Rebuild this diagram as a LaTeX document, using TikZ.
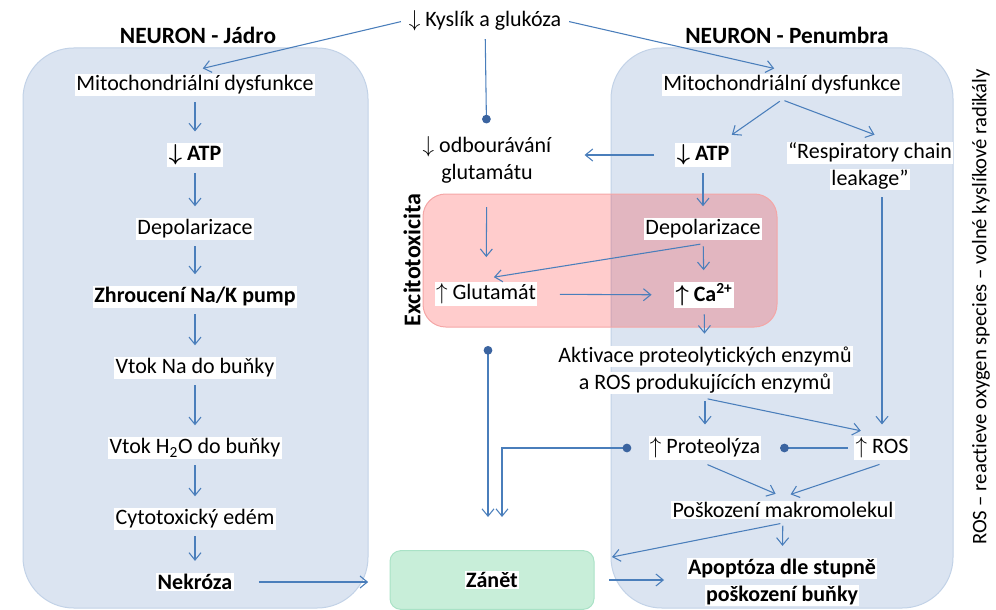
\documentclass[tikz,border=0pt]{standalone}
\usepackage{fontspec}
\setmainfont{Carlito}[Ligatures=NoCommon]
\usetikzlibrary{arrows.meta}

\definecolor{linkblue}{HTML}{4A7EBB}
\definecolor{dotblue}{HTML}{3B64A0}
\definecolor{cellfill}{HTML}{DBE4F1}
\definecolor{celledge}{HTML}{C2D2E7}
\definecolor{zanetfill}{HTML}{C8EED9}
\definecolor{zanetedge}{HTML}{A9E2C6}
\definecolor{excitoedge}{HTML}{F4A6A6}

\newcommand{\bodyfont}{\fontsize{16.5}{20}\selectfont}
\newcommand{\wbox}[1]{{\setlength{\fboxsep}{1pt}\colorbox{white}{#1}}}

\tikzset{
  txt/.style={fill=white, inner sep=1pt, outer sep=3pt, font=\bodyfont},
  boldtxt/.style={txt, font=\bodyfont\bfseries},
  multi/.style={align=center, inner sep=0pt, outer sep=3pt, font=\bodyfont},
  boldmulti/.style={multi, font=\bodyfont\bfseries},
  link/.style={draw=linkblue, line width=0.8pt, arrows={-Straight Barb[length=5.5pt,width=9pt]}, shorten <=2pt, shorten >=6pt},
  dotlink/.style={link, arrows={-Circle[length=6.5pt,color=dotblue]}},
  dotstart/.style={link, arrows={Circle[length=6.5pt,color=dotblue]-Straight Barb[length=5.5pt,width=9pt]}},
  cell/.style={fill=cellfill, draw=celledge, line width=0.75pt, rounded corners=38pt},
}

\begin{document}
\begin{tikzpicture}[x=0.75pt, y=-0.75pt]
    \useasboundingbox (0,0) rectangle (996,610);
    \clip (0,0) rectangle (996,610);

    % Draw the two neuron regions
    \draw[cell] (23,48) rectangle (368,608);
    \draw[cell] (611,48) rectangle (953,608);

    % Draw the excitotoxicity region
    \draw[fill=red, fill opacity=0.2, draw=excitoedge, line width=0.75pt, rounded corners=17pt] (423,194) rectangle (777,327);
    \node[rotate=90, font=\fontsize{18}{20}\selectfont\bfseries] (excito) at (412,260) {Excitotoxicita};

    % Titles
    \node[font=\fontsize{17.5}{20}\selectfont\bfseries] (tjadro) at (198,35) {NEURON - Jádro};
    \node[font=\fontsize{17.5}{20}\selectfont\bfseries] (tpenumbra) at (787,35) {NEURON - Penumbra};
    \node[txt] (kyslik) at (485,21) {$\downarrow$ Kyslík a glukóza};

    % Core of the neuron
    \node[txt] (jmito) at (195,85) {Mitochondriální dysfunkce};
    \node[boldtxt] (jatp) at (195,155) {{\boldmath$\downarrow$} ATP};
    \node[txt] (jdep) at (195,229) {Depolarizace};
    \node[boldtxt] (jpump) at (195,297) {Zhroucení Na/K pump};
    \node[txt] (jna) at (195,368) {Vtok Na do buňky};
    \node[txt] (jh2o) at (195,448) {Vtok H\textsubscript{2}O do buňky};
    \node[txt] (jedem) at (195,519) {Cytotoxický edém};
    \node[boldtxt] (jnekroza) at (195,582) {Nekróza};

    % Middle column
    \node[multi] (odbour) at (487,160) {\wbox{$\downarrow$ odbourávání}\\\wbox{glutamátu}};
    \node[txt] (glut) at (486,294) {$\uparrow$ Glutamát};
    \node[draw=zanetedge, fill=zanetfill, line width=0.75pt, rounded corners=8pt,
          minimum width=153pt, minimum height=44pt, inner sep=0pt] (zanet) at (492,580)
          {\bodyfont\wbox{\textbf{Zánět}}};

    % Penumbra of the neuron
    \node[txt] (pmito) at (782,85) {Mitochondriální dysfunkce};
    \node[boldtxt] (patp) at (703,155) {{\boldmath$\downarrow$} ATP};
    \node[multi] (prcl) at (870,166) {\wbox{“Respiratory chain}\\\wbox{leakage”}};
    \node[txt] (pdep) at (703,229) {Depolarizace};
    \node[boldtxt] (pca) at (704,295) {{\boldmath$\uparrow$} Ca\textsuperscript{2+}};
    \node[multi] (pakt) at (705,370) {\wbox{Aktivace proteolytických enzymů}\\\wbox{a ROS produkujících enzymů}};
    \node[txt] (pprot) at (705,448) {$\uparrow$ Proteolýza};
    \node[txt] (pros) at (882,448) {$\uparrow$ ROS};
    \node[txt] (pposk) at (783,510) {Poškození makromolekul};
    \node[boldmulti] (papop) at (782,582) {\wbox{Apoptóza dle stupně}\\\wbox{poškození buňky}};

    % Note on the right
    \node[rotate=90, font=\fontsize{15.5}{17}\selectfont] (rosnote) at (981,307) {ROS – reactieve oxygen species – volné kyslíkové radikály};

    % Free ends
    \coordinate (glutdot) at (488,346);
    \coordinate (zanetin) at (488,517);
    \coordinate (zanetin2) at (502,517);
    \coordinate (zright) at (612,557);

    % Oxygen and glucose
    \draw[link] (kyslik.west) -- (jmito.north);
    \draw[link] (kyslik.east) -- (pmito.north);
    \draw[dotlink] (kyslik) -- (odbour);

    % Core chain
    \draw[link] (jmito) -- (jatp);
    \draw[link] (jatp) -- (jdep);
    \draw[link] (jdep) -- (jpump);
    \draw[link] (jpump) -- (jna);
    \draw[link] (jna) -- (jh2o);
    \draw[link] (jh2o) -- (jedem);
    \draw[link] (jedem) -- (jnekroza);
    \draw[link, shorten <=16pt, shorten >=16pt] (jnekroza.east) -- (jnekroza.east -| zanet.west);

    % Penumbra chain
    \draw[link] (pmito.south) -- (patp);
    \draw[link] (pmito.south) -- ([xshift=9pt]prcl.north);
    \draw[link, shorten <=13pt, shorten >=21pt] (patp.west) -- (patp.west -| odbour.east);
    \draw[link] (patp) -- (pdep);
    \draw[link, shorten <=14pt, shorten >=16pt] (odbour) -- (glut);
    \draw[link] (pdep.south) -- (glut.north);
    \draw[link] (pdep) -- (pca);
    \draw[link, shorten <=14pt, shorten >=14pt] (glut) -- (pca);
    \draw[link] (pca) -- (pakt);
    \draw[link] (pros.north |- prcl.south) -- (pros);
    \draw[link] (pakt) -- (pprot);
    \draw[link] (pakt.south) -- ([xshift=-10pt]pros.north);
    \draw[dotlink, shorten >=11pt] (pros) -- (pprot);
    \draw[link] (pprot.south) -- (pposk.north);
    \draw[link] (pros.south) -- (pposk.north);
    \draw[link] (pposk) -- (papop);
    \draw[link, shorten >=0pt] (pposk.south) -- (zright);

    % Towards inflammation
    \draw[dotstart, shorten <=0pt, shorten >=0pt] (glutdot) -- (zanetin);
    \draw[dotstart, shorten <=10pt, shorten >=0pt] (pprot.west) -| (zanetin2);
    \draw[link, shorten <=11pt, shorten >=14pt] (zanet.east) -- (zanet.east -| papop.west);
\end{tikzpicture}
\end{document}
